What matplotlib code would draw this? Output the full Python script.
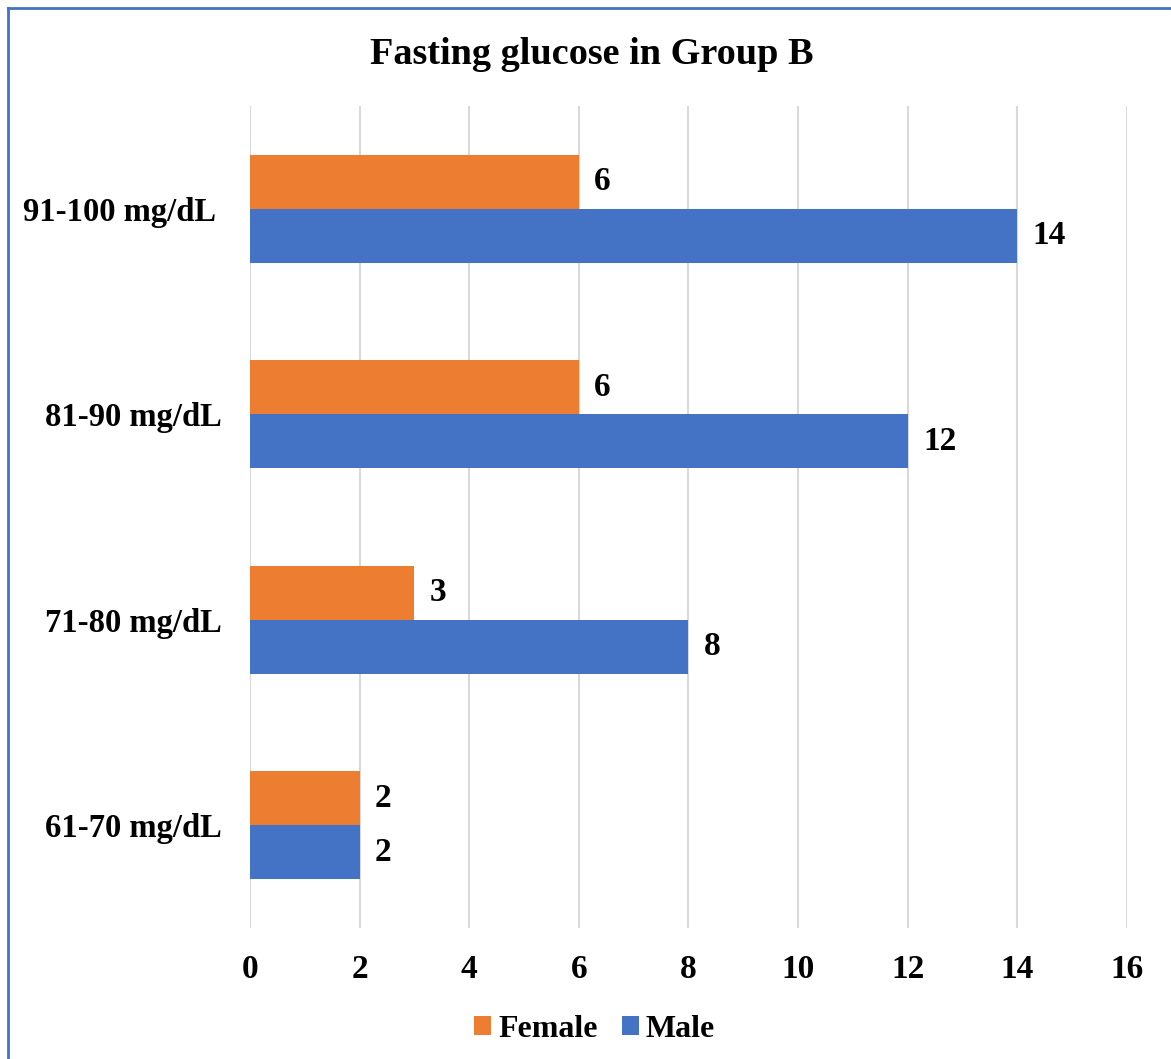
import numpy as np
import matplotlib.pyplot as plt
from matplotlib.lines import Line2D

categories = ['61-70 mg/dL', '71-80 mg/dL', '81-90 mg/dL', '91-100 mg/dL ']
female = [2, 3, 6, 6]
male = [2, 8, 12, 14]

plt.rcParams['font.family'] = 'Liberation Serif'
plt.rcParams['font.weight'] = 'bold'

fig = plt.figure(figsize=(11.71, 10.59), dpi=100)
ax = fig.add_axes([0.2135, 0.1237, 0.7489, 0.7762])

y = np.arange(len(categories))
h = 0.2625
b1 = ax.barh(y + h / 2, female, height=h, color='#ED7D31', label='Female', zorder=3)
b2 = ax.barh(y - h / 2, male, height=h, color='#4472C4', label='Male', zorder=3)

for bars in (b1, b2):
    for bar in bars:
        w = bar.get_width()
        ax.annotate(f'{w:g}', (w, bar.get_y() + bar.get_height() / 2),
                    xytext=(11, 0), textcoords='offset points',
                    va='center', ha='left', fontsize=24, fontweight='bold')

ax.set_xlim(0, 16)
ax.set_ylim(-0.5, 3.5)
ax.set_xticks(range(0, 17, 2))
ax.set_yticks(y)
ax.set_yticklabels(categories)
ax.tick_params(axis='both', length=0, labelsize=24)
ax.tick_params(axis='y', pad=20, labelsize=23.5)
ax.tick_params(axis='x', pad=19)
ax.grid(axis='x', color='#D9D9D9', linewidth=1.5, zorder=0)
for s in ax.spines.values():
    s.set_visible(False)

fig.suptitle('Fasting glucose in Group B', x=0.505, y=0.965, fontsize=27.5, fontweight='bold')

ax.legend(loc='center', bbox_to_anchor=(0.393, -0.123), ncol=2, frameon=False,
          fontsize=23, handlelength=0.53, handleheight=0.53, handletextpad=0.22,
          columnspacing=0.75)

# chart border (left and top edges visible)
fig.add_artist(Line2D([0.0068, 0.0068], [0, 0.9925], transform=fig.transFigure,
                      color='#4472C4', linewidth=2))
fig.add_artist(Line2D([0.0068, 1], [0.9925, 0.9925], transform=fig.transFigure,
                      color='#4472C4', linewidth=2))

fig.savefig('out.png', dpi=100)
